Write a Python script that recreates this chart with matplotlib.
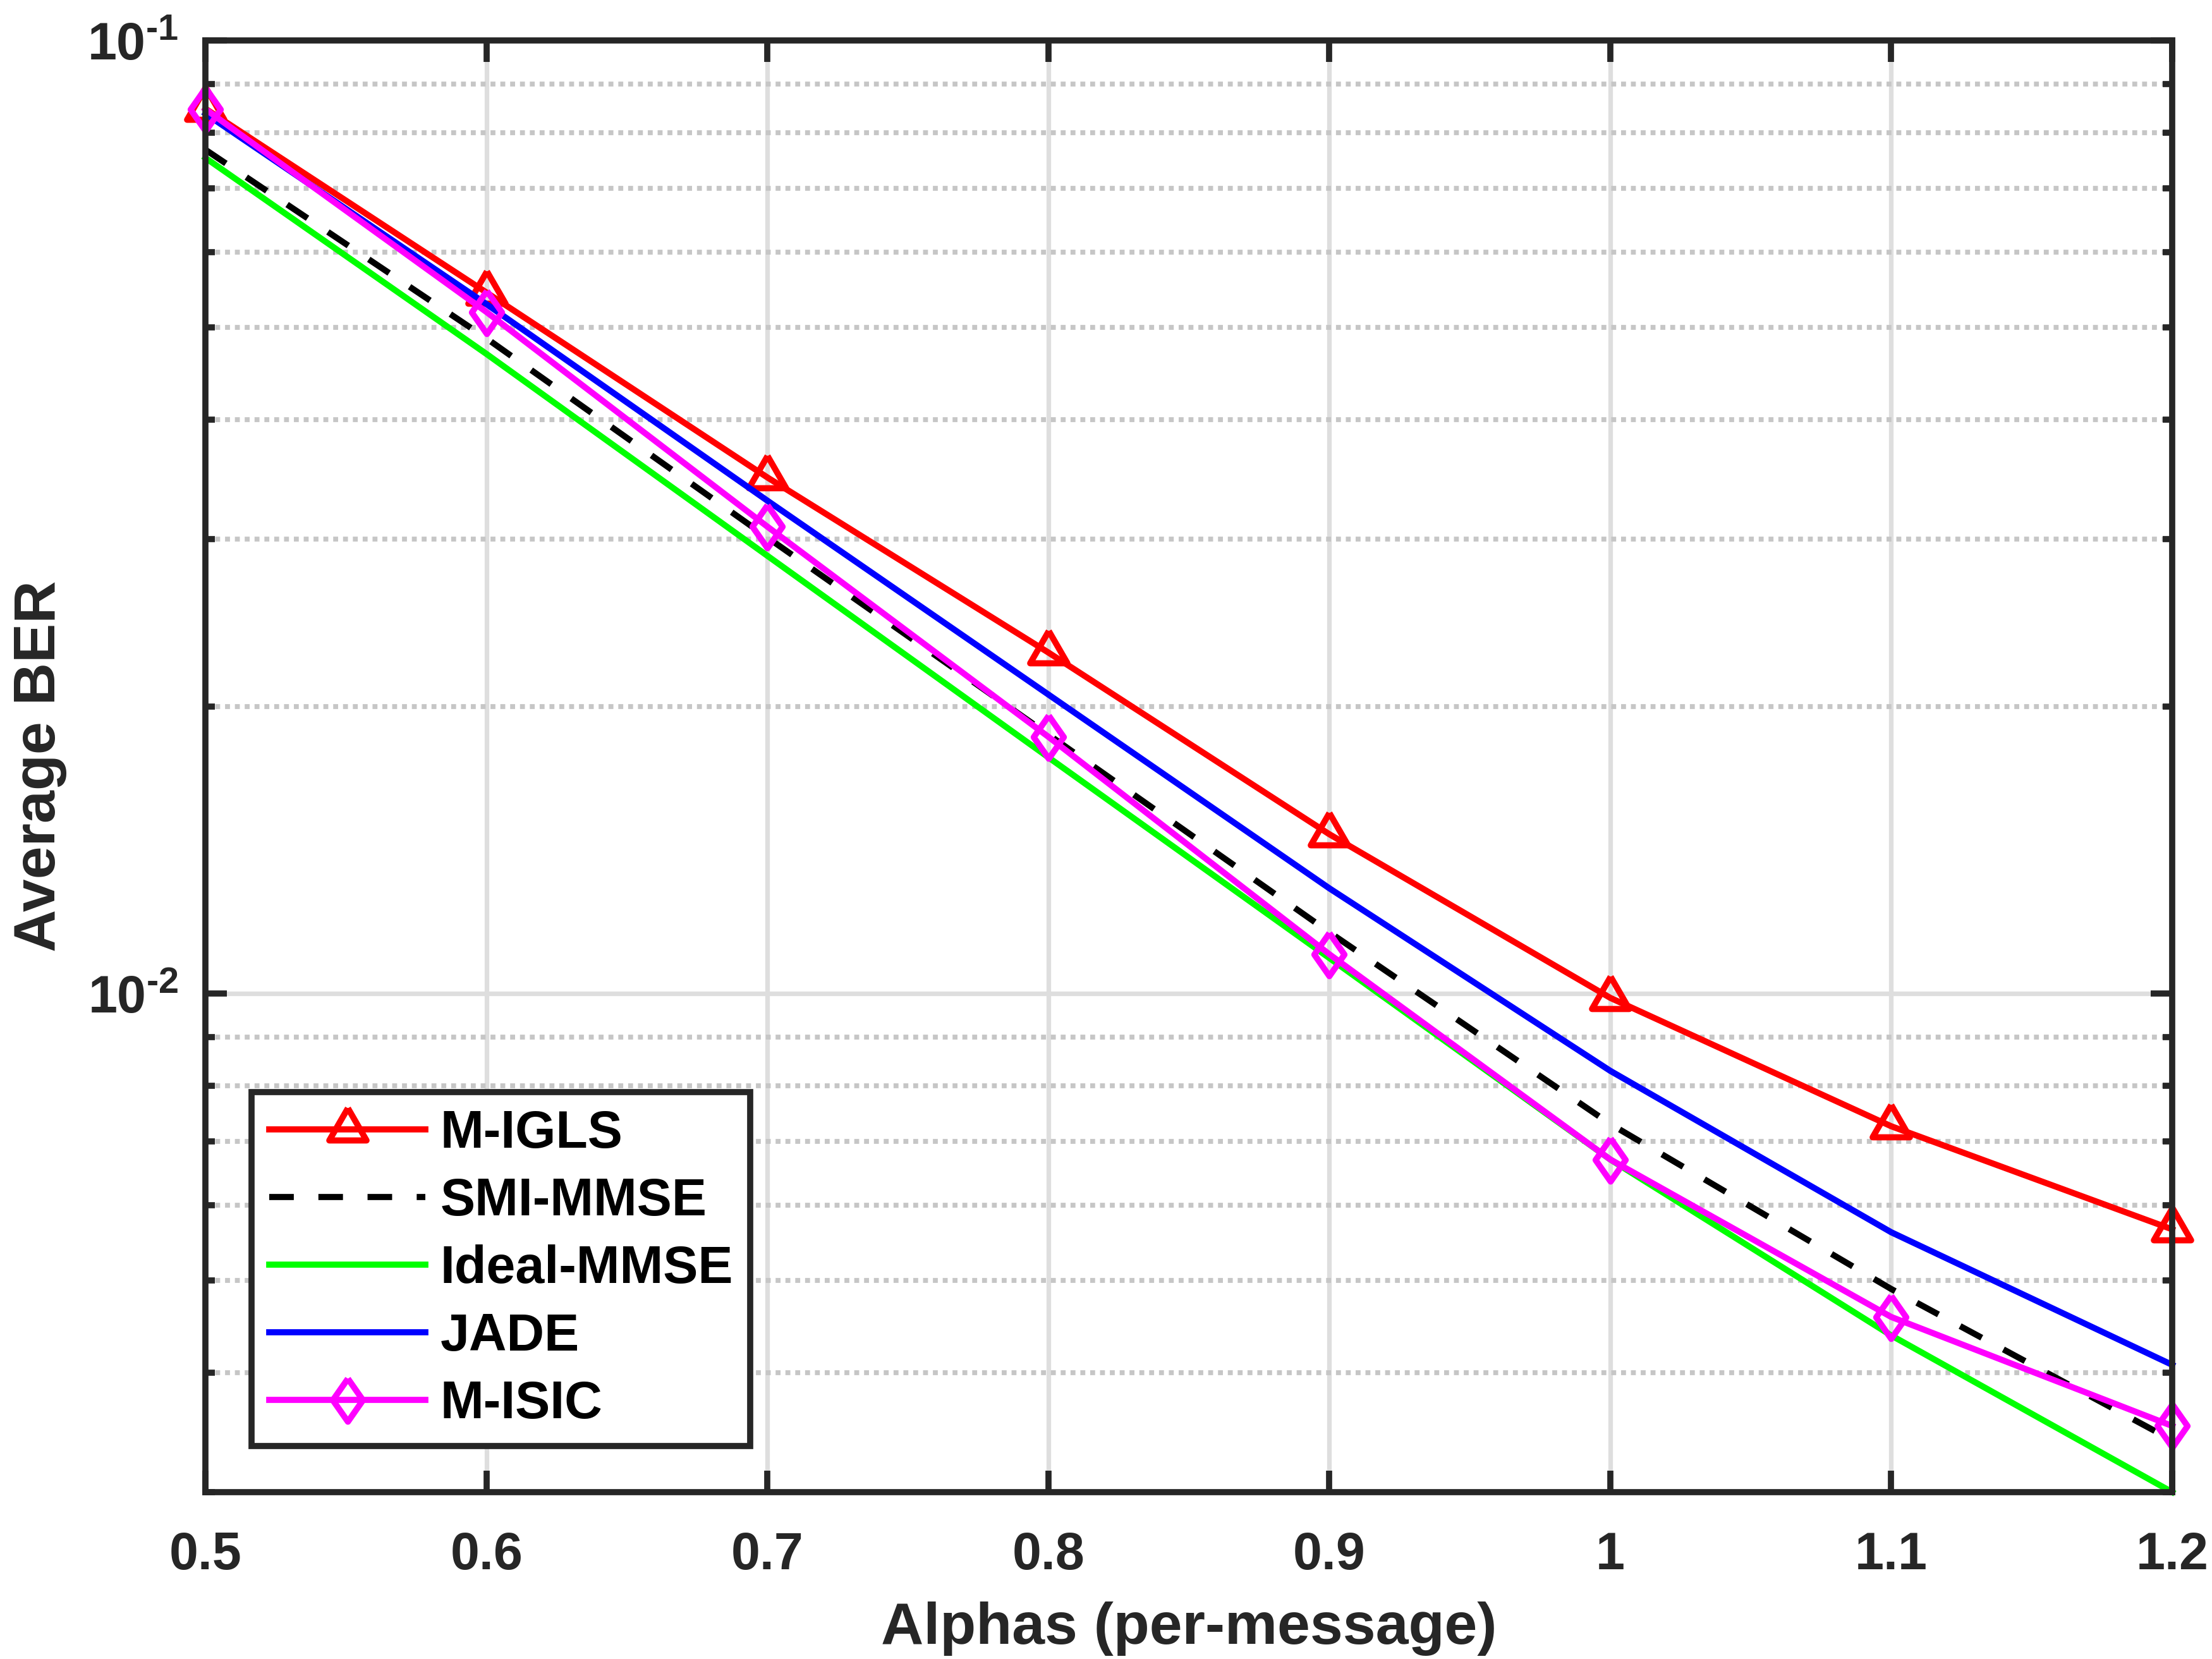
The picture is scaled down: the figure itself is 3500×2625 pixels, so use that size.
import matplotlib
matplotlib.use("Agg")
import matplotlib.pyplot as plt
from matplotlib.ticker import LogLocator, NullFormatter, FixedFormatter

plt.rcParams["font.family"] = "Liberation Sans"
plt.rcParams["font.weight"] = "bold"
plt.rcParams["mathtext.fontset"] = "custom"
plt.rcParams["mathtext.rm"] = "Liberation Sans:bold"
plt.rcParams["mathtext.it"] = "Liberation Sans:bold"
plt.rcParams["mathtext.bf"] = "Liberation Sans:bold"

# values
alphas = [0.5, 0.6, 0.7, 0.8, 0.9, 1.0, 1.1, 1.2]
x_labels = ["0.5", "0.6", "0.7", "0.8", "0.9", "1", "1.1", "1.2"]
ber_migls = [0.0848, 0.0544, 0.0348, 0.0228, 0.0147, 0.0099, 0.00726, 0.00566]
ber_smi_mmse = [0.0768, 0.0487, 0.0301, 0.0187, 0.0116, 0.0073, 0.0049, 0.0034]
ber_ideal_mmse = [0.0753, 0.0469, 0.0288, 0.0177, 0.0109, 0.0067, 0.00438, 0.00300]
ber_jade = [0.0838, 0.0529, 0.0329, 0.0206, 0.0129, 0.0083, 0.00562, 0.00408]
ber_misic = [0.0847, 0.0519, 0.0309, 0.0186, 0.0110, 0.0067, 0.00458, 0.00352]
y_ticks = [0.01, 0.1]
y_labels = ["$10^{\u2010 2}$", "$10^{\u2010 1}$"]

AX_COLOR = "#262626"

# MATLAB style markers: equilateral triangle on its centroid, narrow diamond
tri = [(0, 1), (-0.866, -0.5), (0.866, -0.5), (0, 1)]
dia = [(0, 1), (0.7, 0), (0, -1), (-0.7, 0), (0, 1)]

fig = plt.figure(figsize=(10, 7.5), dpi=350)
ax = fig.add_axes([0.0929, 0.1006, 0.8891, 0.8750])

lw = 2.0
ms = 14
ax.plot(alphas, ber_migls, color="#ff0000", lw=lw, marker=tri, ms=ms,
        mfc="none", mew=lw, label="M-IGLS", clip_on=False)
ax.plot(alphas, ber_smi_mmse, color="black", lw=lw, ls=(0, (4, 4)),
        label="SMI-MMSE", clip_on=False)
ax.plot(alphas, ber_ideal_mmse, color="#00ff00", lw=lw, label="Ideal-MMSE",
        clip_on=False)
ax.plot(alphas, ber_jade, color="#0000ff", lw=lw, label="JADE", clip_on=False)
ax.plot(alphas, ber_misic, color="#ff00ff", lw=lw, marker=dia, ms=ms,
        mfc="none", mew=lw, label="M-ISIC", clip_on=False)

ax.set_yscale("log")
ax.set_xlim(0.5, 1.2)
ax.set_ylim(0.003, 0.1)
ax.set_xticks(alphas)
ax.set_xticklabels(x_labels)
ax.set_yticks(y_ticks)
ax.yaxis.set_major_formatter(FixedFormatter(y_labels))
ax.yaxis.set_minor_locator(LogLocator(base=10, subs=range(2, 10)))
ax.yaxis.set_minor_formatter(NullFormatter())

ax.set_axisbelow(True)
ax.grid(which="major", color="#dedede", lw=1.5, ls="-")
ax.yaxis.grid(which="minor", color="#c6c6c6", lw=1.6, ls=(0, (1, 1)))

for s in ax.spines.values():
    s.set_linewidth(2)
    s.set_color(AX_COLOR)
    s.set_zorder(5)
ax.tick_params(which="both", direction="in", top=True, right=True,
               colors=AX_COLOR, width=2, labelsize=17)
ax.tick_params(which="major", length=7)
ax.tick_params(which="minor", length=3)
ax.tick_params(axis="x", pad=12.5)
ax.tick_params(axis="y", pad=8.8)

ax.set_xlabel("Alphas (per-message)", fontsize=19.2, color=AX_COLOR,
              fontweight="bold", labelpad=7)
ax.set_ylabel("Average BER", fontsize=19.2, color=AX_COLOR,
              fontweight="bold", labelpad=6.5)

leg = ax.legend(loc="lower left", bbox_to_anchor=(0.0235, 0.0318),
                borderaxespad=0, fontsize=17, handlelength=3.0,
                handletextpad=0.28, borderpad=0.33, labelspacing=0.35,
                fancybox=False, framealpha=1, edgecolor=AX_COLOR)
leg.get_frame().set_linewidth(2)
leg.set_zorder(6)

fig.savefig("out.png", dpi=350)
